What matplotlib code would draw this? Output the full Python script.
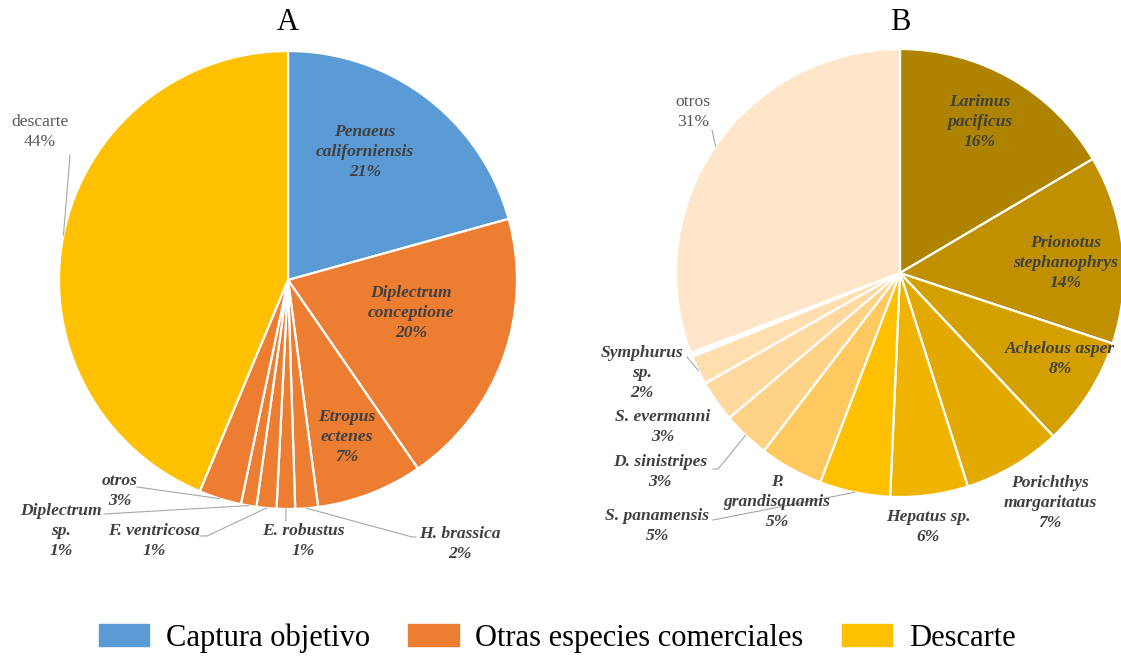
import numpy as np
import matplotlib
matplotlib.use("Agg")
import matplotlib.pyplot as plt
from matplotlib.patches import Patch

# Panel A (share, label = printed percent)
names_a = ["Penaeus\ncaliforniensis", "Diplectrum\nconceptione", "Etropus\nectenes",
           "H. brassica", "E. robustus", "F. ventricosa", "Diplectrum\nsp.", "otros", "descarte"]
share_a = [20.7, 19.7, 7.5, 1.6, 1.3, 1.4, 1.1, 3.0, 43.7]
pct_a = [21, 20, 7, 2, 1, 1, 1, 3, 44]
group_a = ["obj", "com", "com", "com", "com", "com", "com", "com", "desc"]

# Panel B
names_b = ["Larimus\npacificus", "Prionotus\nstephanophrys", "Achelous asper",
           "Porichthys\nmargaritatus", "Hepatus sp.", "P.\ngrandisquamis", "S. panamensis",
           "D. sinistripes", "S. evermanni", "Symphurus\nsp.", "", "otros"]
share_b = [16.5, 13.6, 7.9, 7.1, 5.6, 5.1, 4.6, 3.4, 3.0, 2.1, 0.3, 30.8]
pct_b = [16, 14, 8, 7, 6, 5, 5, 3, 3, 2, None, 31]

legend_labels = ["Captura objetivo", "Otras especies comerciales", "Descarte"]

# styles
group_col = {"obj": "#5B9BD5", "com": "#ED7D31", "desc": "#FFC000"}
cols_b = ["#AE8300", "#C09000", "#D4A000", "#E2AA00", "#F0B400", "#FFC000",
          "#FFC95F", "#FFD286", "#FFD9A0", "#FFDFB0", "#FFFFFF", "#FFE6CA"]
W, H = 1121, 657
serif = "Liberation Serif"
txt_col = "#404040"
lab_size = 12.6

fig = plt.figure(figsize=(W / 100, H / 100), dpi=100)


def make_ax(cx, cy, r):
    ax = fig.add_axes([(cx - r) / W, (H - cy - r) / H, 2 * r / W, 2 * r / H])
    return ax


def px(cx, cy, r, p):
    return ((p[0] - cx) / r, (cy - p[1]) / r)


def mid_point(shares, i):
    c = np.cumsum([0] + list(shares))
    th = np.deg2rad((c[i] + c[i + 1]) / 2 / sum(shares) * 360)
    return np.sin(th), np.cos(th)


def draw_pie(ax, shares, colors):
    ax.pie(shares, colors=colors, startangle=90, counterclock=False, radius=1,
           wedgeprops=dict(edgecolor="white", linewidth=1.6))
    ax.set_xlim(-1, 1)
    ax.set_ylim(-1, 1)
    ax.axis("off")


def label(ax, x, y, s, plain):
    ax.text(x, y, s, ha="center", va="center", family=serif, fontsize=lab_size,
            fontweight="normal" if plain else "bold", style="normal" if plain else "italic",
            color="#595959" if plain else txt_col, linespacing=1.33, clip_on=False)


# ---- A ----
cxa, cya, ra = 288, 280, 229
axa = make_ax(cxa, cya, ra)
draw_pie(axa, share_a, [group_col[g] for g in group_a])

pos_a = [(365, 152), (411, 313), (347, 437), (460, 544), (303, 541),
         (154, 541), (61, 531), (120, 491), (40, 132)]
for i, (n, p) in enumerate(zip(names_a, pct_a)):
    x, y = px(cxa, cya, ra, pos_a[i])
    label(axa, x, y, f"{n}\n{p}%", n == "descarte")

lead_a = {7: [(137, 487)], 6: [(104, 514)], 5: [(200, 536), (207, 536)],
          4: [(286, 521)], 3: [(416, 537), (412, 537)], 8: [(70, 155)]}
for i, pts in lead_a.items():
    xs = [px(cxa, cya, ra, q)[0] for q in pts]
    ys = [px(cxa, cya, ra, q)[1] for q in pts]
    mx, my = mid_point(share_a, i)
    axa.plot(xs + [mx], ys + [my], color="#A6A6A6", lw=0.8, clip_on=False)

# ---- B ----
cxb, cyb, rb = 900, 273, 224
axb = make_ax(cxb, cyb, rb)
draw_pie(axb, share_b, cols_b)

pos_b = [(980, 122), (1066, 263), (1060, 359), (1050, 503), (928, 527), (777, 502),
         (657, 526), (660, 472), (663, 427), (642, 373), None, (693, 112)]
for i, (n, p) in enumerate(zip(names_b, pct_b)):
    if p is None:
        continue
    x, y = px(cxb, cyb, rb, pos_b[i])
    label(axb, x, y, f"{n}\n{p}%", n == "otros")

# (wedge index, label-side points)
lead_b = [(11, [(712, 130)]), (9, [(687, 357)]), (7, [(713, 469), (718, 469)]),
          (5, [(713, 520)])]
for i, pts in lead_b:
    xs = [px(cxb, cyb, rb, q)[0] for q in pts]
    ys = [px(cxb, cyb, rb, q)[1] for q in pts]
    mx, my = mid_point(share_b, i)
    axb.plot(xs + [mx], ys + [my], color="#A6A6A6", lw=0.8, clip_on=False)

# titles
fig.text(288 / W, 1 - 23 / H, "A", ha="center", va="center", family=serif, fontsize=22)
fig.text(900 / W, 1 - 23 / H, "B", ha="center", va="center", family=serif, fontsize=22)

handles = [Patch(color=group_col[g]) for g in ("obj", "com", "desc")]
fig.legend(handles, legend_labels, loc="center", bbox_to_anchor=(0.497, 1 - 638 / H),
           ncol=3, frameon=False, prop=dict(family=serif, size=22),
           handlelength=1.65, handleheight=0.72, handletextpad=0.55, columnspacing=1.25)

fig.savefig("out.png", dpi=100)
